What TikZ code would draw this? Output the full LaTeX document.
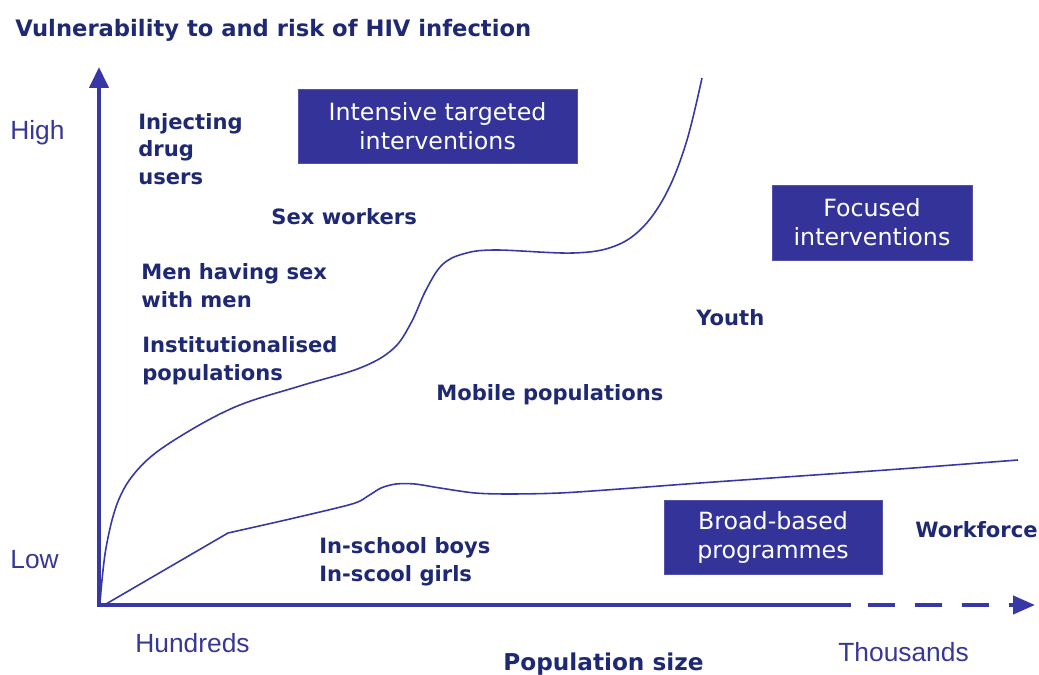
\documentclass[tikz,border=0pt]{standalone}
\usepackage{fontspec}
\setmainfont{Liberation Sans}
\newfontfamily\dejavu{DejaVu Sans}
\usetikzlibrary{arrows.meta}
\definecolor{hivnavy}{RGB}{30,40,115}
\definecolor{hivblue}{RGB}{51,51,153}
\definecolor{hivaxis}{RGB}{55,55,165}
\definecolor{hivtick}{RGB}{55,55,150}

\begin{document}
\begin{tikzpicture}[x=0.02cm, y=-0.02cm,
    group/.style={anchor=west, align=left, inner sep=0pt, text=hivnavy, font=\dejavu\bfseries\fontsize{12}{15.8}\selectfont},
    axislabel/.style={anchor=west, inner sep=0pt, text=hivtick, font=\fontsize{15}{18}\selectfont},
    strategy/.style={rectangle, fill=hivblue, draw=hivblue!85, text=white, align=center, inner sep=0pt, minimum height=1.48cm, font=\dejavu\fontsize{13.5}{16.5}\selectfont},
    curve/.style={draw=hivaxis, line width=0.9pt},
    axis/.style={draw=hivaxis, line width=2.3pt},
]
\useasboundingbox (0,0) rectangle (1039,675);

% Title
\node[group, font=\dejavu\bfseries\fontsize{12.9}{15}\selectfont] (title) at (15,30) {Vulnerability to and risk of HIV infection};

% Axes
\coordinate (origin) at (99,605);
\coordinate (ytip) at (99,67);
\coordinate (xsolid) at (849,605);
\coordinate (xdash) at (868,605);
\coordinate (xtip) at (1035,605);
\draw[axis, -{Triangle[length=0.42cm, width=0.38cm]}] (origin) -- (ytip);
\draw[axis, line cap=rect] (origin) -- (xsolid);
\draw[axis, dash pattern=on 0.54cm off 0.4cm, -{Triangle[length=0.44cm, width=0.36cm]}] (xdash) -- (xtip);

% Axis labels
\node[axislabel] (high) at (10,133) {High};
\node[axislabel] (low) at (10,560) {Low};
\node[axislabel] (hundreds) at (135,643) {Hundreds};
\node[axislabel] (thousands) at (838,652) {Thousands};
\node[group, font=\dejavu\bfseries\fontsize{13.2}{15}\selectfont] (popsize) at (503,664) {Population size};

% Curves
\draw[curve] plot[smooth, tension=0.6] coordinates {(100,603) (106,548) (119,499) (141,466) (176,439) (235,407) (300,386) (360,368) (393,349) (411,323) (426,290) (442,265) (463,254) (495,250) (573,253) (615,246) (644,226) (668,190) (687,140) (702,78)};
\draw[curve] (106,604) -- plot[smooth, tension=0.5] coordinates {(228,533) (290,519) (352,504) (368,496) (381,488) (396,484) (415,484) (440,488) (475,493) (510,494) (560,493) (620,489) (700,483) (800,476) (900,469) (1018,460)};

% Strategy boxes
\node[strategy, minimum width=5.58cm] (intensive) at (437.5,126) {Intensive targeted\\interventions};
\node[strategy, minimum width=4cm, minimum height=1.5cm] (focused) at (872,222.5) {Focused\\interventions};
\node[strategy, minimum width=4.36cm] (broad) at (773,537) {Broad-based\\programmes};

% Population groups
\node[group] (idu) at (138,149) {Injecting\\drug\\users};
\node[group] (sexwork) at (271,217) {Sex workers};
\node[group] (msm) at (141,285.5) {Men having sex\\with men};
\node[group] (instit) at (142,361) {Institutionalised\\populations};
\node[group] (mobile) at (436,395) {Mobile populations};
\node[group] (youth) at (696,318) {Youth};
\node[group] (school) at (319,562) {In-school boys\\In-scool girls};
\node[group] (workforce) at (915,530) {Workforce};

\end{tikzpicture}
\end{document}
